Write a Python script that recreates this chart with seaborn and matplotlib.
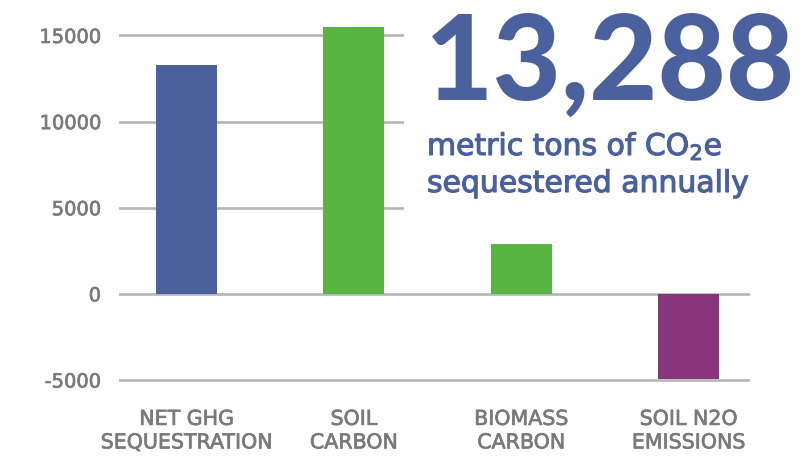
import matplotlib
matplotlib.use("Agg")
import matplotlib.pyplot as plt
import matplotlib.patches as mpatches
import matplotlib.transforms as mtransforms
import matplotlib.patheffects as pe
from matplotlib.font_manager import FontProperties
import seaborn as sns
import pandas as pd

categories = ["NET GHG\nSEQUESTRATION", "SOIL\nCARBON", "BIOMASS\nCARBON", "SOIL N2O\nEMISSIONS"]
values = [13288, 15510, 2870, -4970]
colors = ["#4A619E", "#5AB441", "#5AB441", "#88367B"]
yticks = [-5000, 0, 5000, 10000, 15000]
headline = "13,288"
subline1 = r"metric tons of CO$_\mathregular{2}$e"
subline2 = "sequestered annually"

sns.set_style("white")
plt.rcParams["font.family"] = ["DejaVu Sans"]
plt.rcParams["mathtext.fontset"] = "custom"
plt.rcParams["mathtext.rm"] = "DejaVu Sans"

W, H = 808, 457
fig = plt.figure(figsize=(W / 100, H / 100), dpi=100)
ax = fig.add_axes([119 / W, 1 - 395 / H, (750 - 119) / W, (395 - 15) / H])

df = pd.DataFrame({"cat": categories, "val": values})
sns.barplot(data=df, x="cat", y="val", hue="cat", palette=colors, legend=False,
            width=0.365, saturation=1, linewidth=0, edgecolor="none", ax=ax, zorder=2)

ax.set_xlim(-0.403, 3.368)
ax.set_ylim(-5870, 16188)
ax.set_yticks(yticks)
ax.set_yticklabels([str(v) for v in yticks])
ax.set_xlabel("")
ax.set_ylabel("")
ax.set_axisbelow(True)
ax.yaxis.grid(True, color="#B5B5B5", linewidth=1.9)
ax.xaxis.grid(False)
for s in ax.spines.values():
    s.set_visible(False)
ax.tick_params(axis="both", length=0, colors="#7A7A7A")
ax.tick_params(axis="y", labelsize=14, pad=13)
ax.tick_params(axis="x", labelsize=14.8, pad=10)
grey_fx = [pe.withStroke(linewidth=0.5, foreground="#7A7A7A")]
for lab in ax.get_xticklabels():
    lab.set_linespacing(1.22)
    lab.set_path_effects(grey_fx)
for lab in ax.get_yticklabels():
    lab.set_path_effects(grey_fx)

# white area behind headline text, hiding upper grid lines
trans = mtransforms.blended_transform_factory(ax.transAxes, ax.transData)
ax.add_patch(mpatches.Rectangle(((404 - 119) / (750 - 119), 4500), 1.0, 20000,
                                transform=trans, facecolor="white", edgecolor="none",
                                zorder=1))

blue = "#4A619E"
fp_head = FontProperties(family="Lato", weight="black", size=85)
fig.text(425 / W, 1 - 100 / H, headline, color=blue, fontproperties=fp_head,
         va="baseline", ha="left")
blue_fx = [pe.withStroke(linewidth=0.8, foreground=blue)]
fig.text(427 / W, 1 - 155 / H, subline1, color=blue, fontsize=21.5,
         va="baseline", ha="left", path_effects=blue_fx)
fig.text(427 / W, 1 - 192 / H, subline2, color=blue, fontsize=21.5,
         va="baseline", ha="left", path_effects=blue_fx)

fig.savefig("out.png", dpi=100)
